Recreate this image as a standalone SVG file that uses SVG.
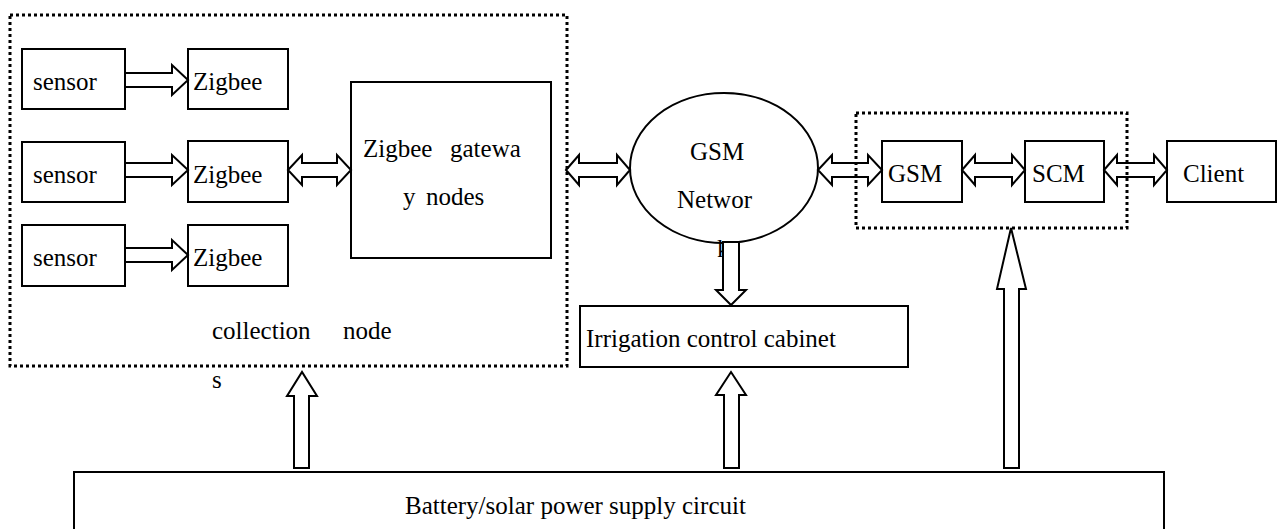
<svg xmlns="http://www.w3.org/2000/svg" width="1277" height="529" viewBox="0 0 1277 529">
<style>
.box{fill:#fff;stroke:#000;stroke-width:2}
.arr{fill:#fff;stroke:#000;stroke-width:2;stroke-linejoin:miter}
.dot{fill:none;stroke:#000;stroke-width:3;stroke-dasharray:3 3}
text{font-family:"Liberation Serif","Times New Roman",serif;font-size:25px;fill:#000}
</style>
<rect width="1277" height="529" fill="#fff"/>
<g id="sensor1"><rect class="box" x="22" y="49" width="103" height="60"/><text x="33" y="90">sensor</text></g>
<g id="sensor2"><rect class="box" x="22" y="142" width="103" height="60"/><text x="33" y="183">sensor</text></g>
<g id="sensor3"><rect class="box" x="22" y="225" width="103" height="61"/><text x="33" y="266">sensor</text></g>
<g id="zigbee1"><rect class="box" x="188" y="49" width="100" height="60"/><text x="193" y="90">Zigbee</text></g>
<g id="zigbee2"><rect class="box" x="188" y="141" width="100" height="61"/><text x="193" y="183">Zigbee</text></g>
<g id="zigbee3"><rect class="box" x="188" y="225" width="100" height="61"/><text x="193" y="266">Zigbee</text></g>
<g id="gateway"><rect class="box" x="351" y="82" width="200" height="176"/><text><tspan x="363" y="157">Zigbee</tspan><tspan x="450" y="157">gatewa</tspan></text><text><tspan x="403" y="205">y</tspan><tspan x="426" y="205">nodes</tspan></text></g>
<g id="collection-label"><text><tspan x="212" y="339">collection</tspan><tspan x="343" y="339">node</tspan></text><text x="212" y="388">s</text></g>
<g id="gsm-network"><ellipse class="box" cx="724" cy="168" rx="94" ry="75"/><text x="690" y="160">GSM</text><text x="677" y="208">Networ</text><text x="717" y="257">k</text></g>
<g id="irrigation"><rect class="box" x="580" y="306" width="328" height="61"/><text x="586" y="347">Irrigation control cabinet</text></g>
<g id="gsm"><rect class="box" x="882" y="141" width="80" height="61"/><text x="888" y="182">GSM</text></g>
<g id="scm"><rect class="box" x="1025" y="141" width="79" height="61"/><text x="1032" y="182">SCM</text></g>
<g id="client"><rect class="box" x="1167" y="141" width="109" height="61"/><text x="1183" y="182">Client</text></g>
<g id="battery"><rect class="box" x="74" y="472" width="1090" height="70"/><text x="405" y="514">Battery/solar power supply circuit</text></g>
<g id="connectors">
<polygon class="arr" points="125,73 172,73 172,65 188,80 172,95 172,87 125,87"/>
<polygon class="arr" points="125,163 172,163 172,155 188,170 172,185 172,177 125,177"/>
<polygon class="arr" points="125,248 172,248 172,240 188,255 172,270 172,262 125,262"/>
<polygon class="arr" points="288,170 302,155 302,163 337,163 337,155 351,170 337,185 337,177 302,177 302,185"/>
<polygon class="arr" points="566,170 579,155 579,163 617,163 617,155 630,170 617,185 617,177 579,177 579,185"/>
<polygon class="arr" points="818,170 832,155 832,163 868,163 868,155 882,170 868,185 868,177 832,177 832,185"/>
<polygon class="arr" points="962,170 975,155 975,163 1012,163 1012,155 1025,170 1012,185 1012,177 975,177 975,185"/>
<polygon class="arr" points="1104,170 1117,155 1117,163 1154,163 1154,155 1167,170 1154,185 1154,177 1117,177 1117,185"/>
<polygon class="arr" points="723,242 739,242 739,290 746,290 731,305 716,290 723,290"/>
<polygon class="arr" points="294,468 294,396 287,396 302,372 317,396 309,396 309,468"/>
<polygon class="arr" points="724,468 724,395 716,395 731,372 746,395 739,395 739,468"/>
<polygon class="arr" points="1004,468 1004,289 997,289 1011,228 1026,289 1019,289 1019,468"/>
</g>
<g id="frames">
<rect class="dot" x="10" y="15" width="557" height="351"/>
<rect class="dot" x="856" y="113" width="271" height="115"/>
</g>
</svg>
